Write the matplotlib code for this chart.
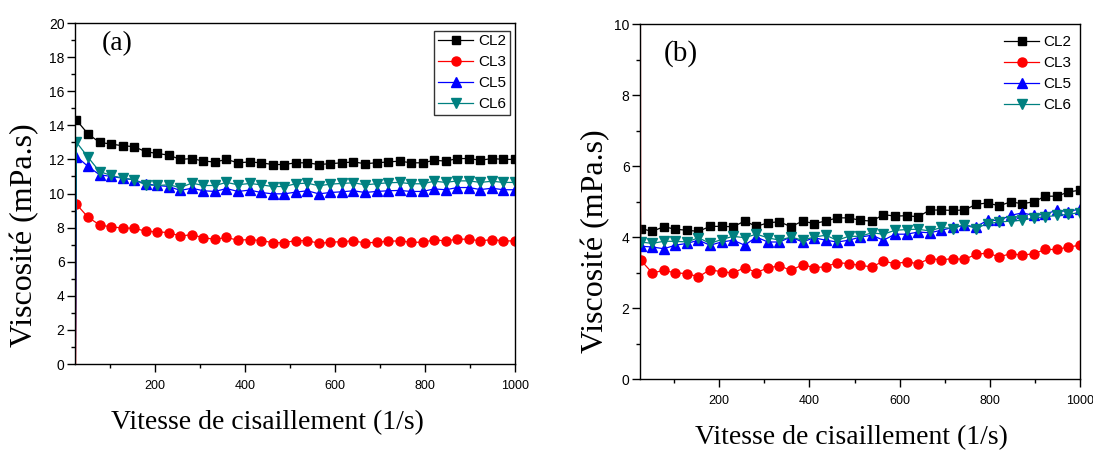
import numpy as np
import matplotlib
matplotlib.use('Agg')
import matplotlib.pyplot as plt
from matplotlib.ticker import MultipleLocator

nan = np.nan

# shear rate (1/s); the first point (0) lies left of the visible x range
shear_rate = [0, 25.6, 51.3, 76.9, 102.6, 128.2, 153.8, 179.5, 205.1, 230.8,
              256.4, 282.1, 307.7, 333.3, 359.0, 384.6, 410.3, 435.9, 461.5,
              487.2, 512.8, 538.5, 564.1, 589.7, 615.4, 641.0, 666.7, 692.3,
              717.9, 743.6, 769.2, 794.9, 820.5, 846.2, 871.8, 897.4, 923.1,
              948.7, 974.4, 1000]

# panel (a) viscosities (mPa.s)
cl2_a = [nan, 14.3, 13.5, 13.0, 12.9, 12.8, 12.75, 12.45, 12.35, 12.25, 12.0,
         12.05, 11.9, 11.85, 12.0, 11.8, 11.85, 11.8, 11.7, 11.7, 11.8, 11.8,
         11.7, 11.75, 11.8, 11.85, 11.75, 11.8, 11.85, 11.9, 11.8, 11.8, 11.95,
         11.9, 12.05, 12.05, 11.95, 12.05, 12.0, 12.0]
cl3_a = [-120, 9.37, 8.61, 8.16, 8.04, 7.98, 7.96, 7.79, 7.75, 7.71, 7.50,
         7.59, 7.40, 7.32, 7.42, 7.26, 7.30, 7.24, 7.12, 7.12, 7.24, 7.24,
         7.08, 7.14, 7.18, 7.22, 7.10, 7.14, 7.20, 7.22, 7.14, 7.14, 7.28,
         7.22, 7.32, 7.32, 7.22, 7.30, 7.22, 7.22]
cl5_a = [-120, 12.17, 11.59, 11.10, 11.0, 10.90, 10.80, 10.57, 10.47, 10.41,
         10.18, 10.31, 10.16, 10.12, 10.29, 10.12, 10.20, 10.06, 9.98, 9.98,
         10.08, 10.16, 9.98, 10.06, 10.10, 10.16, 10.06, 10.12, 10.16, 10.18,
         10.12, 10.12, 10.27, 10.22, 10.35, 10.35, 10.23, 10.31, 10.22, 10.22]
cl6_a = [-120, 13.01, 12.13, 11.29, 11.06, 10.90, 10.80, 10.51, 10.47, 10.51,
         10.35, 10.61, 10.47, 10.47, 10.65, 10.51, 10.59, 10.51, 10.41, 10.41,
         10.57, 10.61, 10.45, 10.55, 10.59, 10.63, 10.51, 10.57, 10.63, 10.65,
         10.57, 10.57, 10.72, 10.65, 10.74, 10.74, 10.65, 10.72, 10.65, 10.65]

# panel (b) viscosities (mPa.s)
cl2_b = [nan, 4.24, 4.16, 4.29, 4.22, 4.19, 4.16, 4.30, 4.30, 4.29, 4.45,
         4.30, 4.40, 4.43, 4.29, 4.45, 4.38, 4.45, 4.54, 4.54, 4.47, 4.45,
         4.63, 4.59, 4.60, 4.57, 4.76, 4.76, 4.75, 4.76, 4.92, 4.96, 4.88,
         4.99, 4.94, 4.99, 5.15, 5.15, 5.27, 5.32]
cl3_b = [300, 3.35, 2.99, 3.06, 2.99, 2.97, 2.88, 3.08, 3.02, 2.99, 3.14,
         3.00, 3.13, 3.19, 3.06, 3.22, 3.14, 3.16, 3.28, 3.25, 3.20, 3.16,
         3.32, 3.25, 3.30, 3.25, 3.39, 3.36, 3.39, 3.37, 3.51, 3.55, 3.44,
         3.53, 3.49, 3.53, 3.65, 3.65, 3.72, 3.77]
cl5_b = [nan, 3.74, 3.72, 3.67, 3.77, 3.82, 3.91, 3.77, 3.86, 3.91, 3.77,
         4.00, 3.86, 3.86, 4.00, 3.86, 3.98, 3.91, 3.86, 3.91, 4.00, 4.05,
         3.91, 4.08, 4.08, 4.14, 4.12, 4.19, 4.27, 4.33, 4.29, 4.47, 4.47,
         4.61, 4.68, 4.61, 4.64, 4.76, 4.71, 4.80]
cl6_b = [40, 3.86, 3.82, 3.88, 3.88, 3.86, 3.98, 3.82, 3.93, 4.02, 3.98,
         4.08, 3.98, 3.91, 4.00, 3.91, 4.00, 4.05, 3.91, 4.02, 4.02, 4.12,
         4.08, 4.19, 4.21, 4.22, 4.17, 4.27, 4.24, 4.35, 4.24, 4.38, 4.42,
         4.45, 4.47, 4.54, 4.57, 4.61, 4.64, 4.69]

labels = ['CL2', 'CL3', 'CL5', 'CL6']
colors = ['#000000', '#ff0000', '#0000ff', '#008080']
markers = ['s', 'o', '^', 'v']
msizes = [6, 6.5, 6.5, 6.5]

SERIF = 'Liberation Serif'
SANS = 'Liberation Sans'
plt.rcParams['font.family'] = SANS


def style_axes(ax, ymax, ylabel_xy, xlabel_xy):
    ax.set_xlim(22.4, 1000)
    ax.set_ylim(0, ymax)
    ax.xaxis.set_major_locator(MultipleLocator(200))
    ax.xaxis.set_minor_locator(MultipleLocator(100))
    ax.yaxis.set_major_locator(MultipleLocator(2))
    ax.yaxis.set_minor_locator(MultipleLocator(1))
    ax.tick_params(which='both', direction='out', top=False, right=False,
                   width=1, color='black')
    ax.tick_params(which='major', length=5.5)
    ax.tick_params(which='minor', length=3)
    ax.tick_params(axis='x', labelsize=9, pad=6)
    ax.tick_params(axis='y', labelsize=10, pad=2)
    for spine in ax.spines.values():
        spine.set_linewidth(1.0)
    ax.set_xticks([200, 400, 600, 800, 1000])
    ax.set_ylabel('Viscosité (mPa.s)', family=SERIF, fontsize=23, va='center')
    ax.yaxis.set_label_coords(*ylabel_xy)
    ax.set_xlabel('Vitesse de cisaillement (1/s)', family=SERIF, fontsize=20,
                  va='center')
    ax.xaxis.set_label_coords(*xlabel_xy)


fig = plt.figure(figsize=(10.93, 4.51), dpi=100)
ax_a = fig.add_axes([0.0686, 0.1929, 0.4026, 0.7561])
ax_b = fig.add_axes([0.5855, 0.1596, 0.4026, 0.7871])

for ax, series in ((ax_a, (cl2_a, cl3_a, cl5_a, cl6_a)),
                   (ax_b, (cl2_b, cl3_b, cl5_b, cl6_b))):
    for vals, lab, c, m, ms in zip(series, labels, colors, markers, msizes):
        ax.plot(shear_rate, vals, color=c, marker=m, markersize=ms,
                linewidth=0.9, label=lab)

style_axes(ax_a, 20, (-0.114, 0.378), (0.4375, -0.173))
style_axes(ax_b, 10, (-0.10, 0.387), (0.48, -0.166))
ax_b.set_xlim(24.0, 1000)

ax_a.text(0.0966, 0.941, '(a)', transform=ax_a.transAxes, family=SERIF,
          fontsize=20, ha='center', va='center')
ax_b.text(0.093, 0.918, '(b)', transform=ax_b.transAxes, family=SERIF,
          fontsize=21, ha='center', va='center')

leg_a = ax_a.legend(loc='upper right', bbox_to_anchor=(0.988, 0.978),
                    borderaxespad=0, fontsize=11, handlelength=2.3,
                    handletextpad=0.3, labelspacing=0.45, borderpad=0.25,
                    fancybox=False, numpoints=1)
leg_a.get_frame().set_edgecolor('black')
leg_a.get_frame().set_linewidth(1.0)

ax_b.legend(loc='upper right', bbox_to_anchor=(0.995, 0.985),
            borderaxespad=0, fontsize=11, handlelength=2.3,
            handletextpad=0.3, labelspacing=0.45, frameon=False, numpoints=1)

fig.savefig('out.png', dpi=100, facecolor='white')
